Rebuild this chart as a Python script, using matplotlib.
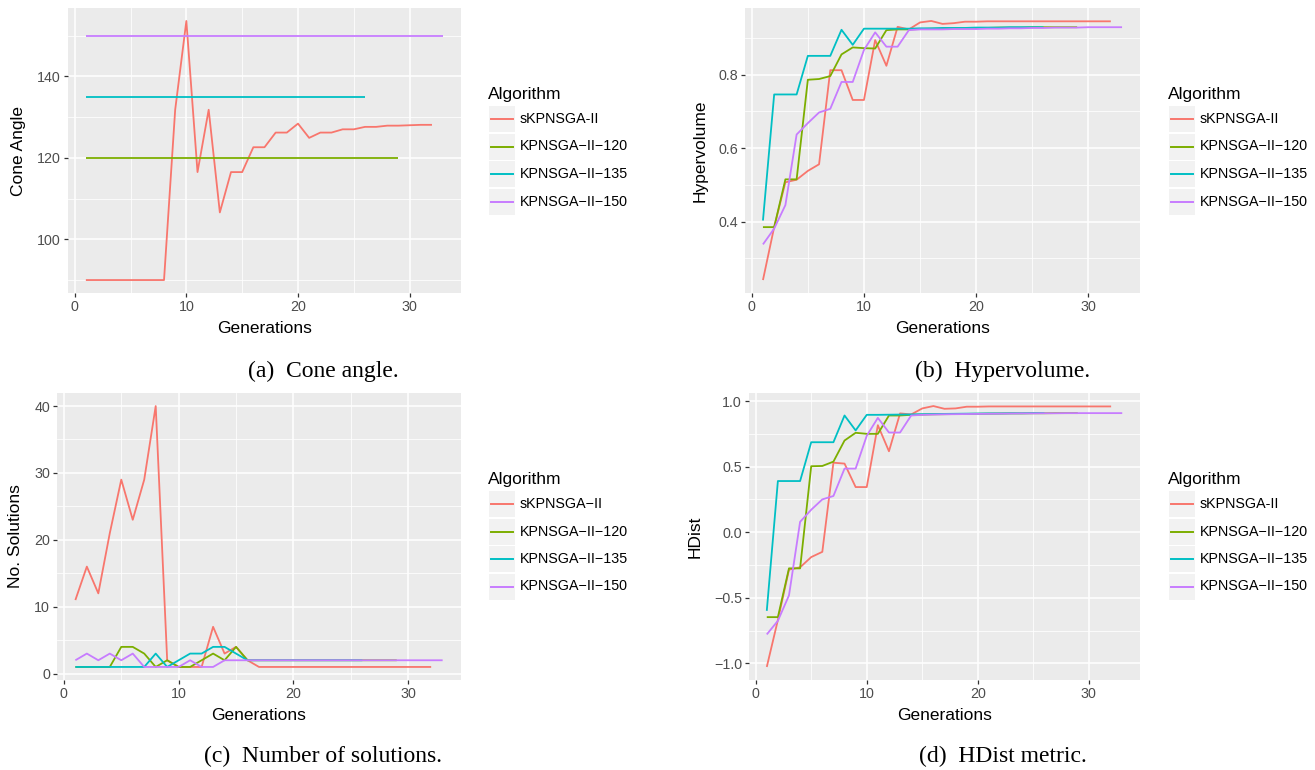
"""Four-panel comparison of sKPNSGA-II vs KPNSGA-II variants (ggplot look)."""

import matplotlib

matplotlib.use("Agg")
import matplotlib.pyplot as plt
from matplotlib.lines import Line2D
from matplotlib.patches import Rectangle
from matplotlib.ticker import FuncFormatter, MultipleLocator

# ---- data -----------------------------------------------------------------
algorithms = ["sKPNSGA-II", "KPNSGA\u2212II\u2212120",
              "KPNSGA\u2212II\u2212135", "KPNSGA\u2212II\u2212150"]
colors = ["#F8766D", "#7CAE00", "#00BFC4", "#C77CFF"]
n_gens = [32, 29, 26, 33]

cone_s = [90, 90, 90, 90, 90, 90, 90, 90, 131.8, 153.6, 116.5, 131.8,
          106.6, 116.5, 116.5, 122.6, 122.6, 126.2, 126.2, 128.4, 124.9,
          126.2, 126.2, 127.0, 127.0, 127.6, 127.6, 127.9, 127.9, 128.0,
          128.1, 128.1]
cone_120 = [120] * 29
cone_135 = [135] * 26
cone_150 = [150] * 33

hv_s = [0.241, 0.385, 0.507, 0.514, 0.538, 0.556, 0.812, 0.812, 0.731,
        0.731, 0.894, 0.824, 0.930, 0.923, 0.942, 0.946, 0.938, 0.940,
        0.944, 0.944] + [0.945] * 12
hv_120 = [0.385, 0.385, 0.515, 0.515, 0.786, 0.788, 0.796, 0.855, 0.874,
          0.872, 0.871, 0.921, 0.923, 0.923, 0.924, 0.925, 0.925, 0.926,
          0.926, 0.927, 0.927, 0.928, 0.928, 0.928, 0.929, 0.929, 0.929,
          0.929, 0.929]
hv_135 = [0.403, 0.746, 0.746, 0.746, 0.851, 0.851, 0.851, 0.922, 0.881,
          0.925, 0.925, 0.925, 0.925, 0.925, 0.926, 0.926, 0.927, 0.927,
          0.927, 0.928, 0.928, 0.928, 0.929, 0.929, 0.929, 0.929]
hv_150 = [0.338, 0.381, 0.445, 0.637, 0.668, 0.697, 0.707, 0.780, 0.780,
          0.867, 0.915, 0.876, 0.876, 0.921, 0.923, 0.923, 0.923, 0.924,
          0.924, 0.924, 0.925, 0.925, 0.926, 0.926, 0.927, 0.927, 0.928,
          0.928, 0.928, 0.929, 0.929, 0.929, 0.929]

sol_s = [11, 16, 12, 21, 29, 23, 29, 40, 2, 1, 1, 1, 7, 3, 4, 2] + [1] * 16
sol_120 = [1, 1, 1, 1, 4, 4, 3, 1, 2, 1, 1, 2, 3, 2, 4, 2] + [2] * 13
sol_135 = [1, 1, 1, 1, 1, 1, 1, 3, 1, 2, 3, 3, 4, 4, 3, 2] + [2] * 10
sol_150 = [2, 3, 2, 3, 2, 3, 1, 1, 1, 1, 2, 1, 1, 2] + [2] * 19

hd_s = [-1.028, -0.67, -0.286, -0.268, -0.19, -0.15, 0.53, 0.523, 0.344,
        0.344, 0.816, 0.617, 0.906, 0.898, 0.944, 0.962, 0.941, 0.944,
        0.957, 0.957] + [0.959] * 12
hd_120 = [-0.648, -0.648, -0.276, -0.276, 0.503, 0.505, 0.538, 0.699,
          0.758, 0.75, 0.75, 0.89, 0.89, 0.895, 0.897, 0.899, 0.900, 0.901,
          0.902, 0.903, 0.904, 0.905, 0.906, 0.906, 0.907, 0.907, 0.908,
          0.908, 0.908]
hd_135 = [-0.6, 0.39, 0.39, 0.39, 0.686, 0.686, 0.686, 0.89, 0.776, 0.895,
          0.895, 0.896, 0.897, 0.898, 0.900, 0.901, 0.902, 0.903, 0.904,
          0.905, 0.906, 0.906, 0.907, 0.907, 0.908, 0.908]
hd_150 = [-0.78, -0.676, -0.482, 0.079, 0.171, 0.25, 0.276, 0.485, 0.485,
          0.735, 0.872, 0.76, 0.76, 0.89, 0.895, 0.897, 0.899, 0.900, 0.901,
          0.902, 0.903, 0.904, 0.905, 0.906, 0.906, 0.907, 0.907, 0.908,
          0.908, 0.908, 0.908, 0.908, 0.908]

SANS = ["Liberation Sans", "DejaVu Sans"]
SERIF = ["Liberation Serif", "DejaVu Serif"]
PX_W, PX_H = 1315, 770


def _fx(px):
    return px / PX_W


def _fy(py):
    return 1 - py / PX_H


def _fmt(decimals):
    def f(v, _pos):
        s = f"{v:.{decimals}f}"
        return s.replace("-", "\u2212")
    return FuncFormatter(f)


def _panel(fig, box, series, ylabel, ymaj, ymin, decimals):
    l, t, r, b = box
    ax = fig.add_axes([_fx(l), _fy(b), _fx(r - l), (b - t) / PX_H])
    ax.set_facecolor("#EBEBEB")
    for s in ax.spines.values():
        s.set_visible(False)
    for vals, c in zip(series, colors):
        gens = list(range(1, len(vals) + 1))
        ax.plot(gens, vals, color=c, lw=1.3, solid_capstyle="butt")
    ax.xaxis.set_major_locator(MultipleLocator(10))
    ax.xaxis.set_minor_locator(MultipleLocator(5))
    ax.yaxis.set_major_locator(MultipleLocator(ymaj))
    ax.yaxis.set_minor_locator(MultipleLocator(ymin))
    ax.yaxis.set_major_formatter(_fmt(decimals))
    ax.grid(which="major", color="white", lw=1.1)
    ax.grid(which="minor", color="white", lw=0.55)
    ax.set_axisbelow(True)
    ax.tick_params(which="major", length=3, width=0.9, color="#333333",
                   labelcolor="#4D4D4D", labelsize=10.3, pad=2)
    ax.tick_params(which="minor", length=0)
    for lab in ax.get_xticklabels() + ax.get_yticklabels():
        lab.set_family(SANS)
    ax.set_xlabel("Generations", family=SANS, fontsize=12.5, labelpad=5)
    ax.set_ylabel(ylabel, family=SANS, fontsize=12.5, labelpad=8)
    return ax


def _legend(fig, x0, title_y, labels):
    fig.text(_fx(x0), _fy(title_y), "Algorithm", family=SANS, fontsize=12.5,
             va="center", ha="left")
    row_h = 27.5
    top = title_y + 12
    for i, (lab, c) in enumerate(zip(labels, colors)):
        y0 = top + i * row_h
        fig.patches.append(Rectangle((_fx(x0 + 1), _fy(y0 + row_h - 1.5)),
                                     _fx(26), (row_h - 1.5) / PX_H,
                                     transform=fig.transFigure,
                                     facecolor="#F2F2F2", edgecolor="none"))
        yc = _fy(y0 + (row_h - 1.5) / 2)
        fig.lines.append(Line2D([_fx(x0 + 3), _fx(x0 + 25)], [yc, yc],
                                transform=fig.transFigure, color=c, lw=1.4))
        fig.text(_fx(x0 + 32), yc, lab, family=SANS, fontsize=10.3,
                 va="center", ha="left")


fig = plt.figure(figsize=(PX_W / 100, PX_H / 100), dpi=100)

_panel(fig, (68, 8, 461, 293), [cone_s, cone_120, cone_135, cone_150],
       "Cone Angle", 20, 10, 0)
_panel(fig, (745, 8, 1140, 293), [hv_s, hv_120, hv_135, hv_150],
       "Hypervolume", 0.2, 0.1, 1)
_panel(fig, (57, 393, 461, 680), [sol_s, sol_120, sol_135, sol_150],
       "No. Solutions", 10, 5, 0)
_panel(fig, (749, 393, 1140, 680), [hd_s, hd_120, hd_135, hd_150],
       "HDist", 0.5, 0.25, 1)

labels_top = ["sKPNSGA-II"] + algorithms[1:]
labels_c = ["sKPNSGA\u2212II"] + algorithms[1:]
_legend(fig, 488, 94, labels_top)
_legend(fig, 1168, 94, labels_top)
_legend(fig, 488, 479, labels_c)
_legend(fig, 1168, 479, labels_top)

captions = [(323, 371, "(a)  Cone angle."), (1003, 371, "(b)  Hypervolume."),
            (323, 756, "(c)  Number of solutions."),
            (1003, 756, "(d)  HDist metric.")]
for cx, cy, txt in captions:
    fig.text(_fx(cx), _fy(cy), txt, family=SERIF, fontsize=17,
             ha="center", va="center")

fig.savefig("out.png", dpi=100)
plt.close(fig)
